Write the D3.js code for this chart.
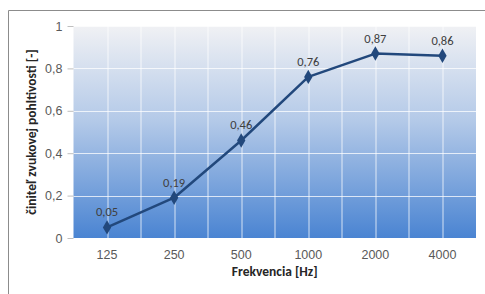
<!DOCTYPE html>
<html>
<head>
<meta charset="utf-8">
<script src="https://cdn.jsdelivr.net/npm/d3@7"></script>
<style>
  body { margin: 0; background: #fff; }
  svg { display: block; font-family: Calibri, Carlito, "Open Sans", sans-serif; }
</style>
</head>
<body>
<svg id="chart"></svg>
<script>
// chart data
const freqs = ['125', '250', '500', '1000', '2000', '4000'];
const alpha = [0.05, 0.19, 0.46, 0.76, 0.87, 0.86];
const yTicks = [0, 0.2, 0.4, 0.6, 0.8, 1];

const width = 485, height = 294;
const margin = { top: 26, right: 9, bottom: 56, left: 73.5 };
const innerW = width - margin.left - margin.right;
const innerH = height - margin.top - margin.bottom;

const svg = d3.select('#chart').attr('width', width).attr('height', height);

// outer frame (only top + left visible)
svg.append('path')
    .attr('d', `M8.5,${height} V10.5 H${width}`)
    .attr('fill', 'none')
    .attr('stroke', '#8c8c8c')
    .attr('stroke-width', 1);

const defs = svg.append('defs');
const grad = defs.append('linearGradient')
    .attr('id', 'bg').attr('x1', 0).attr('y1', 0).attr('x2', 0).attr('y2', 1);
grad.append('stop').attr('offset', '0%').attr('stop-color', '#f0f1f4');
grad.append('stop').attr('offset', '45%').attr('stop-color', '#b3c9e8');
grad.append('stop').attr('offset', '100%').attr('stop-color', '#4a84d2');

const g = svg.append('g').attr('transform', `translate(${margin.left},${margin.top})`);

const x = d3.scaleBand().domain(freqs).range([0, innerW]);
const y = d3.scaleLinear().domain([0, 1]).range([innerH, 0]);

g.append('rect').attr('width', innerW).attr('height', innerH).attr('fill', 'url(#bg)');

// gridlines
g.selectAll('.hgrid').data(yTicks.slice(1)).enter().append('line')
    .attr('x1', 0).attr('x2', innerW)
    .attr('y1', d => Math.round(y(d)) + 0.5).attr('y2', d => Math.round(y(d)) + 0.5)
    .attr('stroke', '#ffffff').attr('stroke-opacity', 0.75);

let vx = [];
freqs.forEach((f, i) => {
    if (i > 0) vx.push(x(f));
    vx.push(x(f) + x.bandwidth() / 2);
});
g.selectAll('.vgrid').data(vx).enter().append('line')
    .attr('x1', d => Math.round(d) + 0.5).attr('x2', d => Math.round(d) + 0.5)
    .attr('y1', 0).attr('y2', innerH)
    .attr('stroke', '#ffffff').attr('stroke-opacity', 0.75);

// y axis
const fmt = d => d === 0 || d === 1 ? String(d) : String(d).replace('.', ',');
const yAxis = g.append('g')
    .call(d3.axisLeft(y).tickValues(yTicks).tickFormat(fmt).tickSize(6).tickPadding(5));
yAxis.select('.domain').remove();
yAxis.selectAll('line').attr('stroke', '#bfbfbf');
yAxis.selectAll('text').attr('fill', '#595959').style('font-size', '12.5px');

// x axis labels
const xAxis = g.append('g').attr('transform', `translate(0,${innerH})`)
    .call(d3.axisBottom(x).tickSize(0).tickPadding(12));
xAxis.select('.domain').remove();
xAxis.selectAll('text').attr('fill', '#595959').style('font-size', '12.5px');

// line + markers
const cx = d => x(d) + x.bandwidth() / 2;
const line = d3.line().x((d, i) => cx(freqs[i])).y(d => y(d));
g.append('path').datum(alpha)
    .attr('d', line)
    .attr('fill', 'none')
    .attr('stroke', '#22487c')
    .attr('stroke-width', 2.5)
    .attr('stroke-linejoin', 'round');

g.selectAll('.pt').data(alpha).enter().append('path')
    .attr('transform', (d, i) => `translate(${cx(freqs[i])},${y(d)})`)
    .attr('d', d3.symbol().type(d3.symbolDiamond).size(60))
    .attr('fill', '#22487c');

g.selectAll('.lbl').data(alpha).enter().append('text')
    .attr('x', (d, i) => cx(freqs[i]))
    .attr('y', d => y(d) - 11)
    .attr('text-anchor', 'middle')
    .attr('fill', '#404040')
    .style('font-size', '12.5px')
    .text(d => String(d).replace('.', ','));

// axis titles
svg.append('text')
    .attr('x', margin.left + innerW / 2).attr('y', 276)
    .attr('text-anchor', 'middle')
    .style('font-size', '13.5px').style('font-weight', 'bold')
    .attr('fill', '#262626')
    .text('Frekvencia [Hz]');

svg.append('text')
    .attr('transform', `translate(36,${margin.top + innerH / 2}) rotate(-90)`)
    .attr('text-anchor', 'middle')
    .style('font-size', '13.5px').style('font-weight', 'bold')
    .attr('fill', '#262626')
    .text('činiteľ zvukovej pohltivosti [-]');
</script>
</body>
</html>
